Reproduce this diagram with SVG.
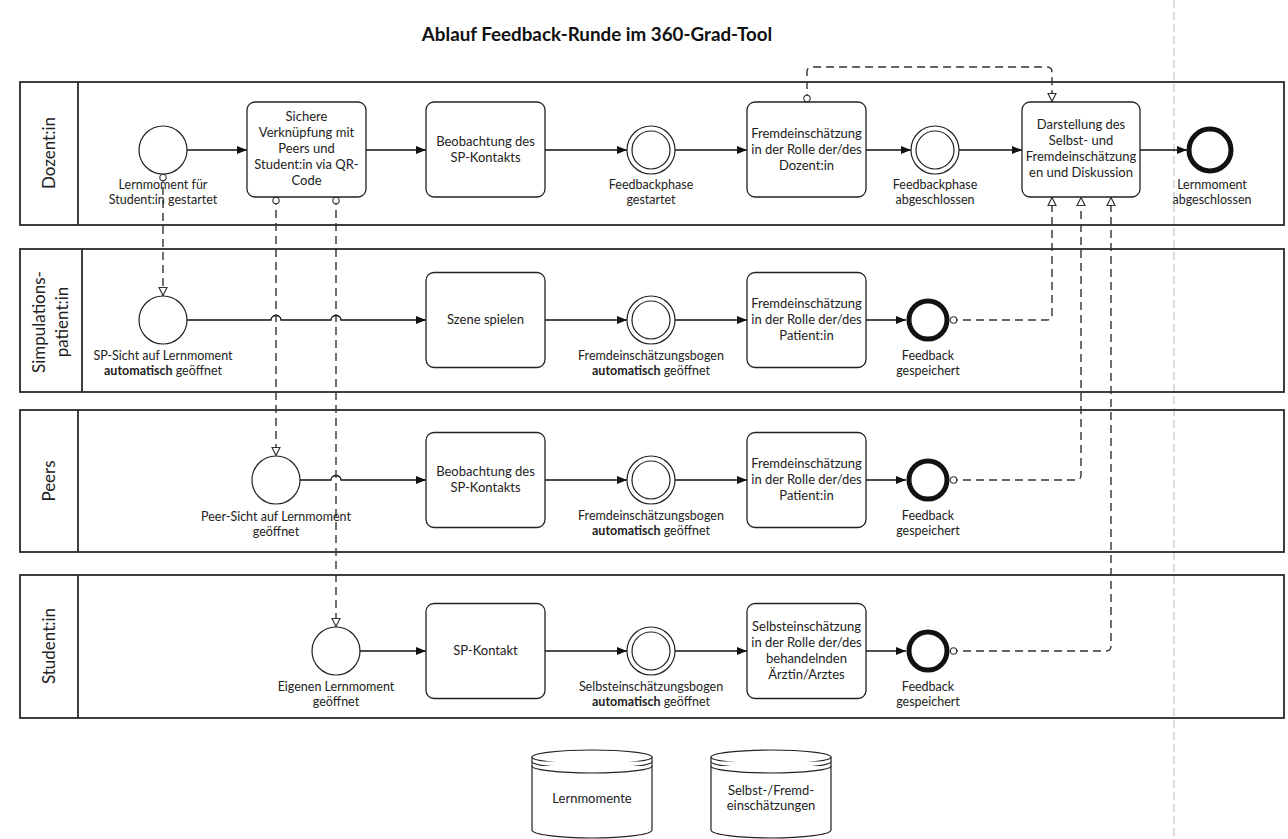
<svg xmlns="http://www.w3.org/2000/svg" width="1288" height="839" viewBox="0 0 1288 839">
<style>
text{font-family:Lato,"Liberation Sans",sans-serif;fill:#222}
.title{font-size:18.8px;font-weight:bold;text-anchor:middle;fill:#111}
.lane{fill:none;stroke:#2a2a2a;stroke-width:1.8}
.lh{font-size:17px;text-anchor:middle}
.t{font-size:13px;text-anchor:middle}
.l{font-size:12.5px;text-anchor:middle}
.task{fill:#fff;stroke:#222;stroke-width:1.3}
.ev{fill:#fff;stroke:#222;stroke-width:1.2}
.end{fill:#fff;stroke:#111;stroke-width:5}
.seq{fill:none;stroke:#111;stroke-width:1.3;marker-end:url(#arr)}
.msg{fill:none;stroke:#333;stroke-width:1.4;stroke-dasharray:8 5;marker-start:url(#mstart);marker-end:url(#mend)}
.ds{fill:#fff;stroke:#222;stroke-width:1.2}
.b{font-weight:bold}
</style>
<defs>
<marker id="arr" viewBox="0 0 10 8" refX="10" refY="4" markerWidth="10" markerHeight="8" markerUnits="userSpaceOnUse" orient="auto"><path d="M0,0 L10,4 L0,8 z" fill="#111"/></marker>
<marker id="mend" viewBox="0 0 10 10" refX="9.5" refY="5" markerWidth="10" markerHeight="10" markerUnits="userSpaceOnUse" orient="auto"><path d="M1,1 L9,5 L1,9 z" fill="#fff" stroke="#333" stroke-width="1.2"/></marker>
<marker id="mstart" viewBox="0 0 9 9" refX="1" refY="4.5" markerWidth="9" markerHeight="9" markerUnits="userSpaceOnUse" orient="auto"><circle cx="4.5" cy="4.5" r="3.2" fill="#fff" stroke="#333" stroke-width="1.1"/></marker>
</defs>
<rect width="1288" height="839" fill="#fff"/>
<line x1="1174" y1="0" x2="1174" y2="839" stroke="#b8b8b8" stroke-width="1" stroke-dasharray="8 4"/>
<text class="title" x="597" y="41">Ablauf Feedback-Runde im 360-Grad-Tool</text>

<g id="lane-dozent">
<rect class="lane" x="20" y="82" width="1264" height="143"/>
<line class="lane" x1="78" y1="82" x2="78" y2="225"/>
<text class="lh" transform="translate(55,153) rotate(-90)">Dozent:in</text>
</g>
<g id="lane-sp">
<rect class="lane" x="20" y="249" width="1264" height="143"/>
<line class="lane" x1="82" y1="249" x2="82" y2="392"/>
<text class="lh" transform="translate(45,322) rotate(-90)">Simpulations-</text>
<text class="lh" transform="translate(68,322) rotate(-90)">patient:in</text>
</g>
<g id="lane-peers">
<rect class="lane" x="20" y="410" width="1264" height="142"/>
<line class="lane" x1="78" y1="410" x2="78" y2="552"/>
<text class="lh" transform="translate(55,481) rotate(-90)">Peers</text>
</g>
<g id="lane-student">
<rect class="lane" x="20" y="575" width="1264" height="143"/>
<line class="lane" x1="78" y1="575" x2="78" y2="718"/>
<text class="lh" transform="translate(55,646) rotate(-90)">Student:in</text>
</g>

<g id="connectors">
<path class="seq" d="M187,150 H247"/>
<path class="seq" d="M366,150 H426"/>
<path class="seq" d="M545,150 H627"/>
<path class="seq" d="M675,150 H747"/>
<path class="seq" d="M866,150 H911"/>
<path class="seq" d="M959,150 H1022"/>
<path class="seq" d="M1140,150 H1187"/>
<path class="seq" d="M187,320 H271 A5,4.5 0 0 1 281,320 H331 A5,4.5 0 0 1 341,320 H426"/>
<path class="seq" d="M545,320 H627"/>
<path class="seq" d="M675,320 H747"/>
<path class="seq" d="M866,320 H906"/>
<path class="seq" d="M300,480 H331 A5,4.5 0 0 1 341,480 H426"/>
<path class="seq" d="M545,480 H627"/>
<path class="seq" d="M675,480 H747"/>
<path class="seq" d="M866,480 H906"/>
<path class="seq" d="M360,651 H426"/>
<path class="seq" d="M545,651 H627"/>
<path class="seq" d="M675,651 H747"/>
<path class="seq" d="M866,651 H906"/>
<path class="msg" d="M163,174 V296"/>
<path class="msg" d="M276,197 V456"/>
<path class="msg" d="M336,197 V627"/>
<path class="msg" d="M807,102 V72 Q807,67 812,67 H1047 Q1052,67 1052,72 V102"/>
<path class="msg" d="M950,320 H1047 Q1052,320 1052,315 V197"/>
<path class="msg" d="M950,480 H1076 Q1081,480 1081,475 V197"/>
<path class="msg" d="M950,651 H1106 Q1111,651 1111,646 V197"/>
</g>

<g id="start-dozent">
<circle class="ev" cx="163" cy="150" r="24"/>
<text class="l" x="163" y="189">Lernmoment für</text>
<text class="l" x="163" y="204">Student:in gestartet</text>
</g>
<g id="task-verknuepfung">
<rect class="task" x="247" y="102" width="119" height="95" rx="8"/>
<text class="t" x="306.5" y="121">Sichere</text>
<text class="t" x="306.5" y="137">Verknüpfung mit</text>
<text class="t" x="306.5" y="153">Peers und</text>
<text class="t" x="306.5" y="169">Student:in via QR-</text>
<text class="t" x="306.5" y="185">Code</text>
</g>
<g id="task-beobachtung-dozent">
<rect class="task" x="426" y="102" width="119" height="95" rx="8"/>
<text class="t" x="485.5" y="146">Beobachtung des</text>
<text class="t" x="485.5" y="162">SP-Kontakts</text>
</g>
<g id="ev-feedback-start">
<circle class="ev" cx="651" cy="150" r="24"/>
<circle class="ev" cx="651" cy="150" r="19"/>
<text class="l" x="651" y="189">Feedbackphase</text>
<text class="l" x="651" y="204">gestartet</text>
</g>
<g id="task-fremd-dozent">
<rect class="task" x="747" y="102" width="119" height="95" rx="8"/>
<text class="t" x="806.5" y="138">Fremdeinschätzung</text>
<text class="t" x="806.5" y="154">in der Rolle der/des</text>
<text class="t" x="806.5" y="170">Dozent:in</text>
</g>
<g id="ev-feedback-end">
<circle class="ev" cx="935" cy="150" r="24"/>
<circle class="ev" cx="935" cy="150" r="19"/>
<text class="l" x="935" y="189">Feedbackphase</text>
<text class="l" x="935" y="204">abgeschlossen</text>
</g>
<g id="task-darstellung">
<rect class="task" x="1022" y="102" width="118" height="95" rx="8"/>
<text class="t" x="1081" y="129">Darstellung des</text>
<text class="t" x="1081" y="145">Selbst- und</text>
<text class="t" x="1081" y="161">Fremdeinschätzung</text>
<text class="t" x="1081" y="177">en und Diskussion</text>
</g>
<g id="end-dozent">
<circle class="end" cx="1210" cy="150" r="21"/>
<text class="l" x="1212" y="189">Lernmoment</text>
<text class="l" x="1212" y="204">abgeschlossen</text>
</g>

<g id="start-sp">
<circle class="ev" cx="163" cy="320" r="24"/>
<text class="l" x="163" y="360">SP-Sicht auf Lernmoment</text>
<text class="l" x="163" y="375"><tspan class="b">automatisch</tspan> geöffnet</text>
</g>
<g id="task-szene">
<rect class="task" x="426" y="272.5" width="119" height="95" rx="8"/>
<text class="t" x="485.5" y="324">Szene spielen</text>
</g>
<g id="ev-bogen-sp">
<circle class="ev" cx="651" cy="320" r="24"/>
<circle class="ev" cx="651" cy="320" r="19"/>
<text class="l" x="651" y="360">Fremdeinschätzungsbogen</text>
<text class="l" x="651" y="375"><tspan class="b">automatisch</tspan> geöffnet</text>
</g>
<g id="task-fremd-sp">
<rect class="task" x="747" y="272.5" width="119" height="95" rx="8"/>
<text class="t" x="806.5" y="308">Fremdeinschätzung</text>
<text class="t" x="806.5" y="324">in der Rolle der/des</text>
<text class="t" x="806.5" y="340">Patient:in</text>
</g>
<g id="end-sp">
<circle class="end" cx="928" cy="320" r="19"/>
<text class="l" x="928" y="360">Feedback</text>
<text class="l" x="928" y="375">gespeichert</text>
</g>

<g id="start-peers">
<circle class="ev" cx="276" cy="480" r="24"/>
<text class="l" x="276" y="521">Peer-Sicht auf Lernmoment</text>
<text class="l" x="276" y="536">geöffnet</text>
</g>
<g id="task-beobachtung-peers">
<rect class="task" x="426" y="432.5" width="119" height="95" rx="8"/>
<text class="t" x="485.5" y="476">Beobachtung des</text>
<text class="t" x="485.5" y="492">SP-Kontakts</text>
</g>
<g id="ev-bogen-peers">
<circle class="ev" cx="651" cy="480" r="24"/>
<circle class="ev" cx="651" cy="480" r="19"/>
<text class="l" x="651" y="520">Fremdeinschätzungsbogen</text>
<text class="l" x="651" y="535"><tspan class="b">automatisch</tspan> geöffnet</text>
</g>
<g id="task-fremd-peers">
<rect class="task" x="747" y="432.5" width="119" height="95" rx="8"/>
<text class="t" x="806.5" y="468">Fremdeinschätzung</text>
<text class="t" x="806.5" y="484">in der Rolle der/des</text>
<text class="t" x="806.5" y="500">Patient:in</text>
</g>
<g id="end-peers">
<circle class="end" cx="928" cy="480" r="19"/>
<text class="l" x="928" y="520">Feedback</text>
<text class="l" x="928" y="535">gespeichert</text>
</g>

<g id="start-student">
<circle class="ev" cx="336" cy="651" r="24"/>
<text class="l" x="336" y="691">Eigenen Lernmoment</text>
<text class="l" x="336" y="706">geöffnet</text>
</g>
<g id="task-sp-kontakt">
<rect class="task" x="426" y="603.5" width="119" height="95" rx="8"/>
<text class="t" x="485.5" y="655">SP-Kontakt</text>
</g>
<g id="ev-bogen-student">
<circle class="ev" cx="651" cy="651" r="24"/>
<circle class="ev" cx="651" cy="651" r="19"/>
<text class="l" x="651" y="691">Selbsteinschätzungsbogen</text>
<text class="l" x="651" y="706"><tspan class="b">automatisch</tspan> geöffnet</text>
</g>
<g id="task-selbst">
<rect class="task" x="747" y="603.5" width="119" height="95" rx="8"/>
<text class="t" x="806.5" y="631">Selbsteinschätzung</text>
<text class="t" x="806.5" y="647">in der Rolle der/des</text>
<text class="t" x="806.5" y="663">behandelnden</text>
<text class="t" x="806.5" y="679">Ärztin/Arztes</text>
</g>
<g id="end-student">
<circle class="end" cx="928" cy="651" r="19"/>
<text class="l" x="928" y="691">Feedback</text>
<text class="l" x="928" y="706">gespeichert</text>
</g>

<g id="ds-lernmomente">
<path class="ds" d="M532,757 V830 A60,8 0 0 0 652,830 V757"/>
<ellipse class="ds" cx="592" cy="757" rx="60" ry="7"/>
<path class="ds" d="M532,761.5 A60,7 0 0 0 652,761.5" fill="none"/>
<path class="ds" d="M532,766 A60,7 0 0 0 652,766" fill="none"/>
<text class="t" x="592" y="803">Lernmomente</text>
</g>
<g id="ds-einschaetzungen">
<path class="ds" d="M711,757 V830 A60,8 0 0 0 831,830 V757"/>
<ellipse class="ds" cx="771" cy="757" rx="60" ry="7"/>
<path class="ds" d="M711,761.5 A60,7 0 0 0 831,761.5" fill="none"/>
<path class="ds" d="M711,766 A60,7 0 0 0 831,766" fill="none"/>
<text class="t" x="771" y="795">Selbst-/Fremd-</text>
<text class="t" x="771" y="810">einschätzungen</text>
</g>
</svg>
